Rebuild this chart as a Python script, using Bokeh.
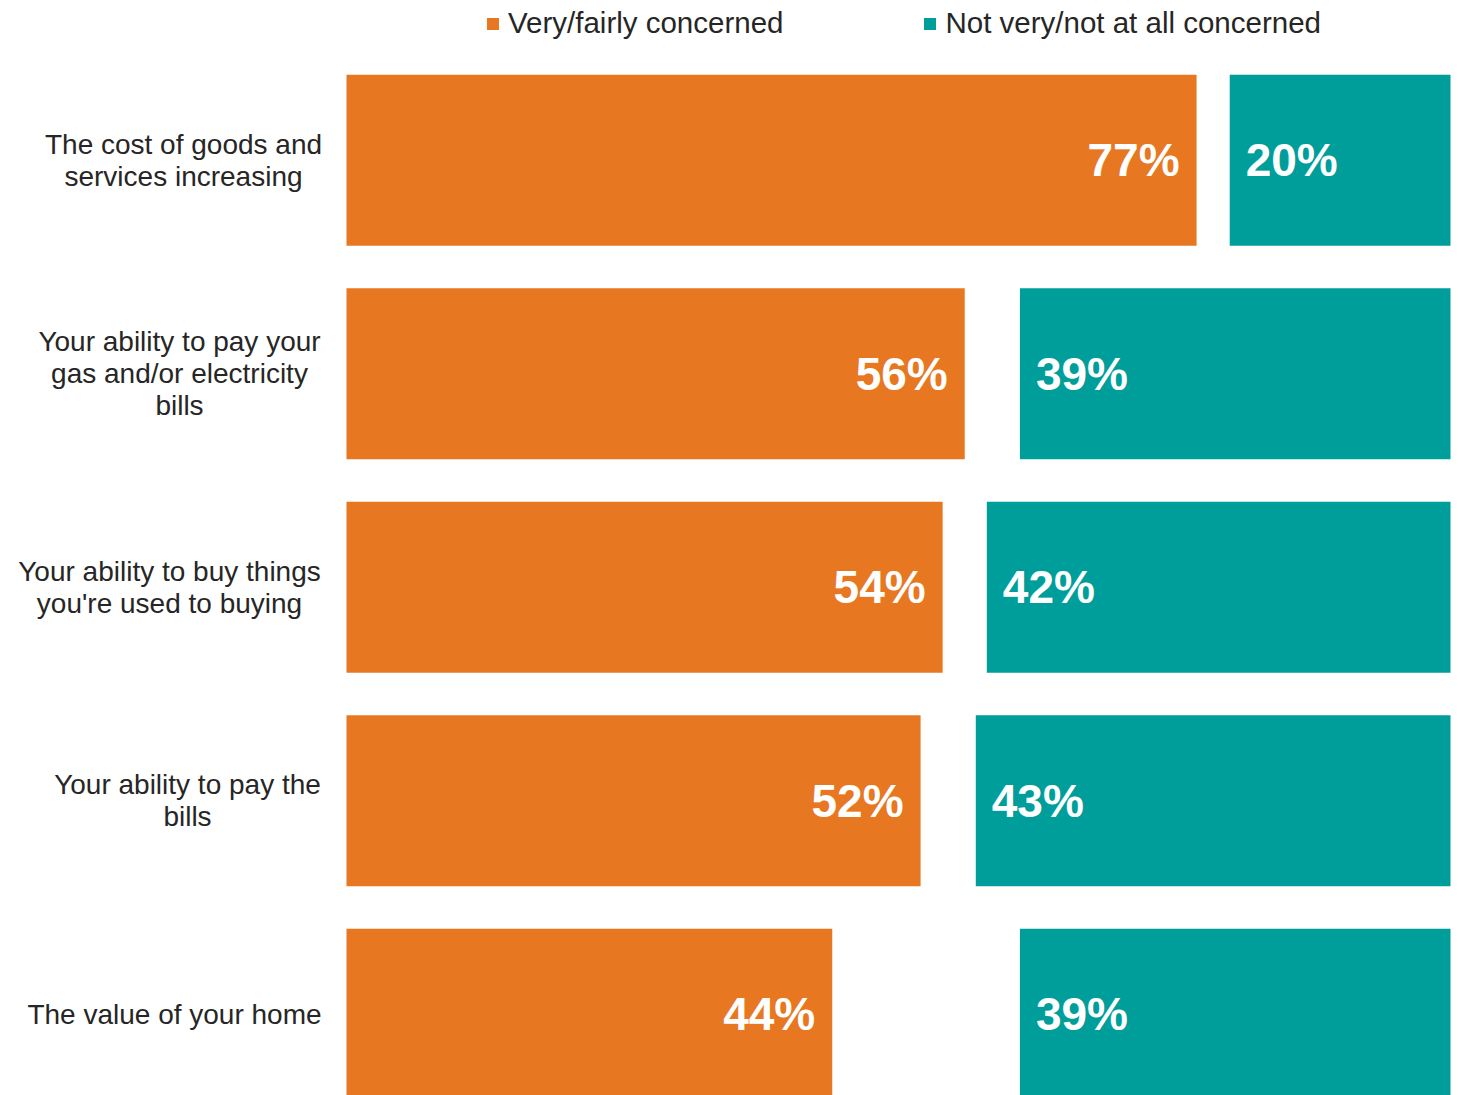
from bokeh.plotting import figure
from bokeh.models import ColumnDataSource, Range1d, Legend, LegendItem
from bokeh.core.properties import value
from bokeh.embed import file_html
from bokeh.resources import INLINE

categories = [
    "The cost of goods and\nservices increasing",
    "Your ability to pay your\ngas and/or electricity\nbills",
    "Your ability to buy things\nyou're used to buying",
    "Your ability to pay the\nbills",
    "The value of your home",
]
concerned = [77, 56, 54, 52, 44]
not_concerned = [20, 39, 42, 43, 39]
series_names = ["Very/fairly concerned", "Not very/not at all concerned"]

ORANGE = "#E87722"
TEAL = "#009E9B"
TEXT = "#262626"

# layout (page pixels)
W, H = 1462, 1095
BAR_LEFT, BAR_RIGHT = 346, 1450   # where 0% and 100% sit
TOP = 53                          # top of first row band
ROW_PX = 213.5                    # row pitch
label_centres = [183, 179, 169, 187, 174]  # horizontal centre of each label block
LINE_STEP = 32

px_per_unit = (BAR_RIGHT - BAR_LEFT) / 100.0
x_start = -BAR_LEFT / px_per_unit
x_end = 100 + (W - BAR_RIGHT) / px_per_unit
y_top = -0.5 - TOP / ROW_PX
y_bottom = -0.5 + (H - TOP) / ROW_PX

pos = list(range(len(categories)))
src = ColumnDataSource(dict(
    y=pos,
    conc=concerned,
    notc=not_concerned,
    notc_left=[100 - v for v in not_concerned],
    full=[100] * len(pos),
    zero=[0] * len(pos),
    conc_lbl=[f"{v}%" for v in concerned],
    notc_lbl=[f"{v}%" for v in not_concerned],
))

# one row per label line
ly, ltxt, lxo, lyo = [], [], [], []
for i, cat in enumerate(categories):
    lines = cat.split("\n")
    n = len(lines)
    for j, line in enumerate(lines):
        ly.append(pos[i])
        ltxt.append(line)
        lxo.append(label_centres[i] - BAR_LEFT)
        lyo.append((j - (n - 1) / 2) * LINE_STEP)
lsrc = ColumnDataSource(dict(x=[0] * len(ly), y=ly, text=ltxt, xo=lxo, yo=lyo))

p = figure(width=W, height=H, output_backend="svg", toolbar_location=None,
           x_axis_type=None, y_axis_type=None,
           x_range=Range1d(x_start, x_end), y_range=Range1d(y_bottom, y_top),
           min_border_left=0, min_border_right=0, min_border_bottom=0, min_border_top=0)

r1 = p.hbar(y="y", left="zero", right="conc", height=0.8, source=src,
            fill_color=ORANGE, line_color=None)
r2 = p.hbar(y="y", left="notc_left", right="full", height=0.8, source=src,
            fill_color=TEAL, line_color=None)

p.text(x="conc", y="y", text="conc_lbl", source=src, x_offset=-17,
       text_align="right", text_baseline="middle", text_color="white",
       text_font=value("Liberation Sans"), text_font_style="bold", text_font_size="46px")
p.text(x="notc_left", y="y", text="notc_lbl", source=src, x_offset=16,
       text_align="left", text_baseline="middle", text_color="white",
       text_font=value("Liberation Sans"), text_font_style="bold", text_font_size="46px")

p.text(x="x", y="y", text="text", source=lsrc, x_offset="xo", y_offset="yo",
       text_align="center", text_baseline="middle", text_color=TEXT,
       text_font=value("Liberation Sans"), text_font_size="28px")

p.xgrid.visible = False
p.ygrid.visible = False
p.outline_line_color = None

legend = Legend(items=[LegendItem(label=series_names[0], renderers=[r1]),
                       LegendItem(label=series_names[1], renderers=[r2])],
                orientation="horizontal", location=(485, 1055),
                glyph_width=15, glyph_height=15, label_standoff=8, spacing=139,
                label_text_font="Liberation Sans", label_text_font_size="29.5px",
                label_text_color=TEXT, border_line_color=None,
                padding=4, margin=0, background_fill_alpha=0)
p.add_layout(legend, "center")

open("out.html", "w").write(file_html(p, INLINE))
